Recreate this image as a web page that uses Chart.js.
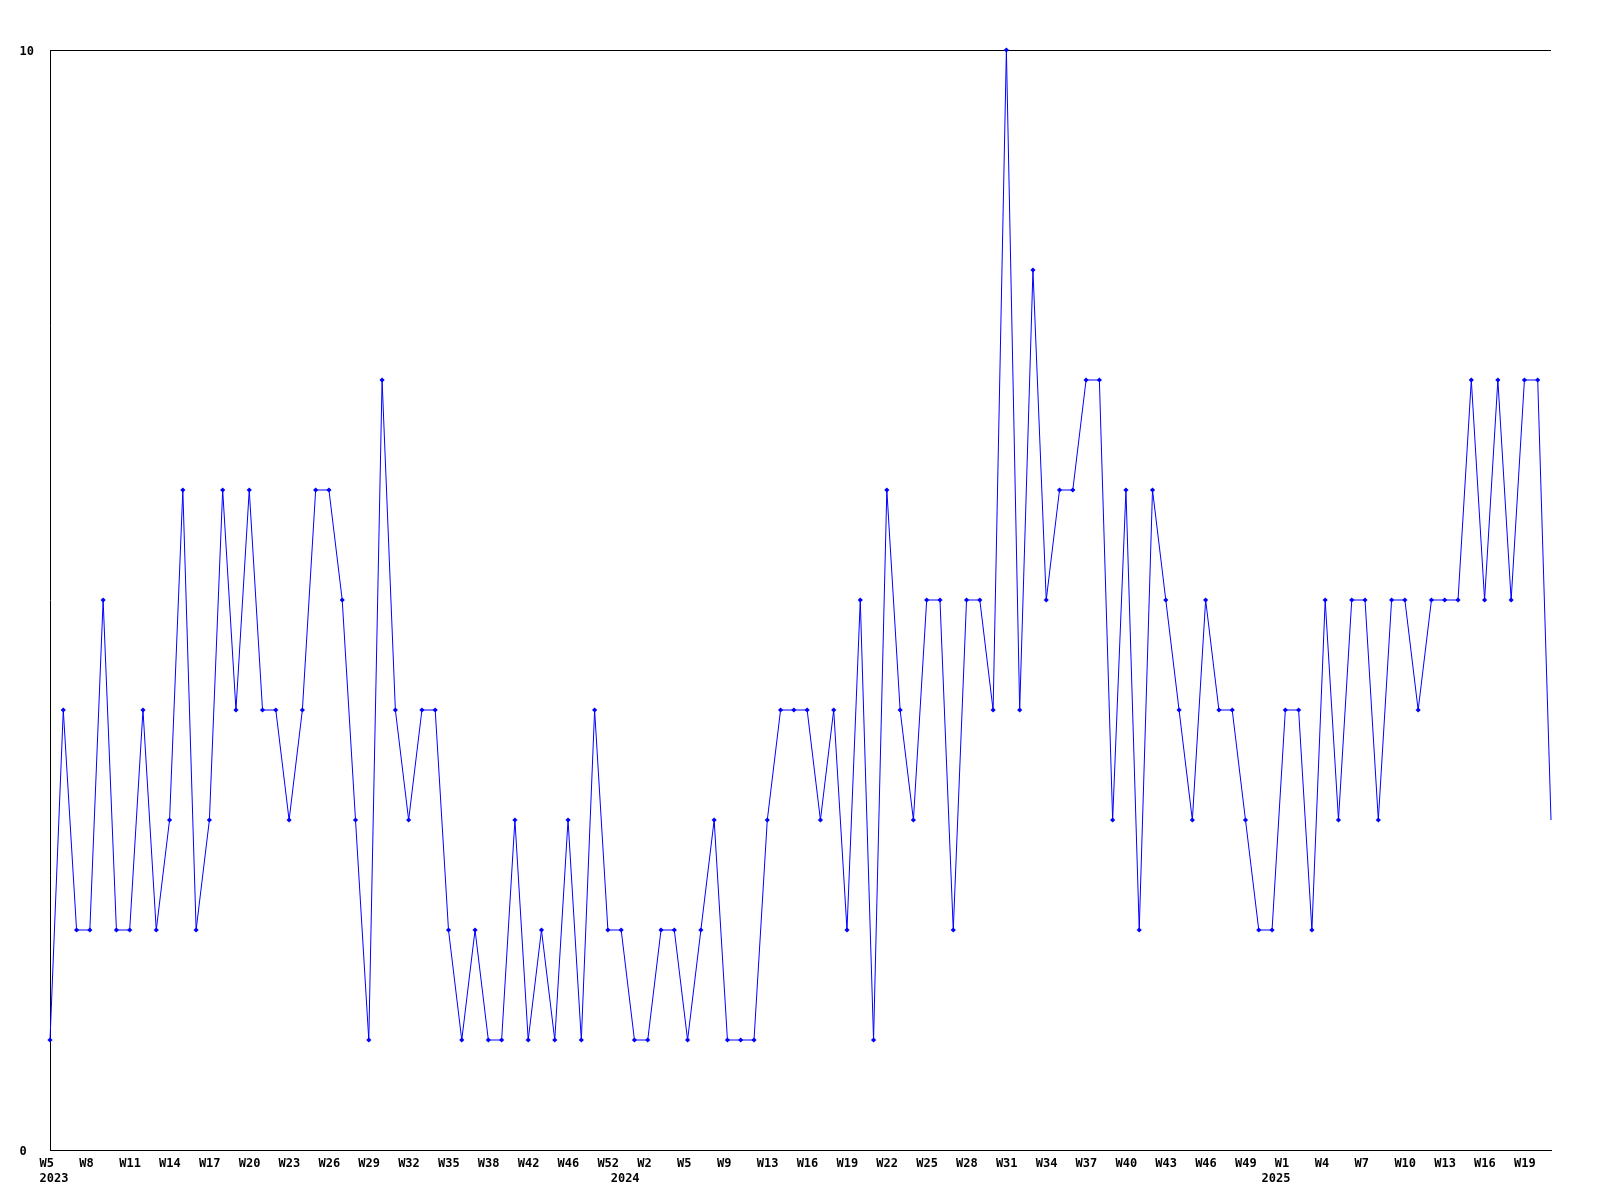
<!DOCTYPE html>
<html>
<head>
<meta charset="utf-8">
<script src="https://cdn.jsdelivr.net/npm/chart.js@4/dist/chart.umd.min.js"></script>
<style>
  html, body { margin: 0; padding: 0; background: #ffffff; }
  #wrap { width: 1600px; height: 1200px; }
</style>
</head>
<body>
<div id="wrap"><canvas id="c" width="1600" height="1200"></canvas></div>
<script>
// Weekly values, from 2023 W5 to 2025 W21 (one per point)
const values = [
  1, 4, 2, 2, 5, 2, 2, 4, 2, 3,
  6, 2, 3, 6, 4, 6, 4, 4, 3, 4,
  6, 6, 5, 3, 1, 7, 4, 3, 4, 4,
  2, 1, 2, 1, 1, 3, 1, 2, 1, 3,
  1, 4, 2, 2, 1, 1, 2, 2, 1, 2,
  3, 1, 1, 1, 3, 4, 4, 4, 3, 4,
  2, 5, 1, 6, 4, 3, 5, 5, 2, 5,
  5, 4, 10, 4, 8, 5, 6, 6, 7, 7,
  3, 6, 2, 6, 5, 4, 3, 5, 4, 4,
  3, 2, 2, 4, 4, 2, 5, 3, 5, 5,
  3, 5, 5, 4, 5, 5, 5, 7, 5, 7,
  5, 7, 7, 3
];

// Week tick labels, one for every third point
const weekTickLabels = [
  "W5", "W8", "W11", "W14", "W17", "W20", "W23", "W26", "W29", "W32",
  "W35", "W38", "W42", "W46", "W52", "W2", "W5", "W9", "W13", "W16",
  "W19", "W22", "W25", "W28", "W31", "W34", "W37", "W40", "W43", "W46",
  "W49", "W1", "W4", "W7", "W10", "W13", "W16", "W19"
];
const weekTickEvery = 3;

// Year labels and the point index where each year starts
const yearLabels = ["2023", "2024", "2025"];
const yearStartIndex = [0, 43, 92];

const yTicks = [0, 10];

// ---- build tick list ----
const xTickList = [];
weekTickLabels.forEach((lab, k) => {
  const idx = k * weekTickEvery;
  const y = yearStartIndex.indexOf(idx);
  xTickList.push({ value: idx, label: y >= 0 ? [lab, yearLabels[y]] : lab });
});
yearStartIndex.forEach((idx, y) => {
  if (!xTickList.some(t => t.value === idx)) {
    xTickList.push({ value: idx, label: ["", yearLabels[y]] });
  }
});
xTickList.sort((a, b) => a.value - b.value);

const points = values.map((v, i) => ({ x: i, y: v }));

Chart.defaults.font.family = "'DejaVu Sans Mono', 'Liberation Mono', monospace";
Chart.defaults.font.size = 12;
Chart.defaults.font.weight = 'bold';
Chart.defaults.color = '#000000';

new Chart(document.getElementById('c'), {
  type: 'line',
  data: {
    datasets: [{
      data: points,
      borderColor: '#0000ff',
      backgroundColor: '#0000ff',
      borderWidth: 1,
      tension: 0,
      fill: false,
      pointStyle: 'rectRot',
      pointRadius: ctx => (ctx.dataIndex === values.length - 1 ? 0 : 2.6),
      pointBorderWidth: 0,
      pointBackgroundColor: '#0000ff',
      clip: false
    }]
  },
  options: {
    responsive: false,
    animation: false,
    devicePixelRatio: 1,
    layout: { padding: { left: 19.5, top: 50, right: 49, bottom: 0 } },
    plugins: { legend: { display: false }, tooltip: { enabled: false } },
    scales: {
      x: {
        type: 'linear',
        min: 0,
        max: values.length - 1,
        grid: { display: false },
        border: { display: true, color: '#000000', width: 1 },
        ticks: {
          autoSkip: false,
          maxRotation: 0,
          minRotation: 0,
          align: 'start',
          labelOffset: -10.5,
          padding: -2,
          font: { size: 12, weight: 'bold', lineHeight: 1.25 },
          callback: (v, i) => (xTickList[i] ? xTickList[i].label : null)
        },
        afterBuildTicks: scale => {
          scale.ticks = xTickList.map(t => ({ value: t.value }));
        },
        afterFit: scale => { scale.height = 50; }
      },
      y: {
        type: 'linear',
        min: yTicks[0],
        max: yTicks[yTicks.length - 1],
        grid: { display: true, color: '#000000', lineWidth: 1, drawTicks: false },
        border: { display: true, color: '#000000', width: 1 },
        ticks: {
          crossAlign: 'far',
          padding: 0,
          labelOffset: 2,
          font: { size: 12, weight: 'bold' },
          callback: v => String(v)
        },
        afterBuildTicks: scale => {
          scale.ticks = yTicks.map(v => ({ value: v }));
        },
        afterFit: scale => { scale.width = 30.5; }
      }
    }
  }
});
</script>
</body>
</html>
